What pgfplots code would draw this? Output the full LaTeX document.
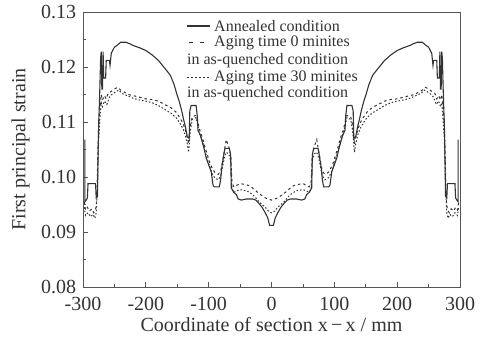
\documentclass[border=0pt]{standalone}
\usepackage{fontspec}
\setmainfont{Liberation Serif}
\usepackage{pgfplots}
\pgfplotsset{compat=1.18}
\definecolor{ink}{HTML}{333333}
\definecolor{frame}{HTML}{555555}
\begin{document}
\fontsize{20}{24}\selectfont
\begin{tikzpicture}
\begin{axis}[
  scale only axis, width=377pt, height=275pt,
  xmin=-300, xmax=300, ymin=0.08, ymax=0.13,
  xtick={-300,-200,...,300}, minor x tick num=1,
  ytick={0.08,0.09,0.10,0.11,0.12,0.13}, minor y tick num=1,
  tick align=inside, xtick pos=bottom, ytick pos=left,
  major tick length=5pt, minor tick length=3pt,
  axis line style={frame, line width=0.8pt},
  tick style={frame, line width=0.7pt},
  /pgf/number format/assume math mode=true,
  yticklabel style={/pgf/number format/fixed, /pgf/number format/fixed zerofill, /pgf/number format/precision=2, text=ink},
  xticklabel style={text=ink, yshift=-3pt},
  scaled y ticks=false,
  xlabel={Coordinate of section x\,\textminus\,x / mm},
  ylabel={First principal strain},
  label style={text=ink},
  xlabel style={yshift=6pt},
  ylabel style={yshift=-2pt},
]
% Annealed condition
\addplot[ink, line width=1.1pt] coordinates {
(-297,0.1068) (-297,0.0955) (-295,0.0958) (-293,0.0962) (-292,0.0988) (-280,0.0988) (-279,0.0962) (-277,0.0965)
(-276,0.1040) (-275,0.1100) (-274,0.1130) (-273,0.1170) (-272,0.1215) (-271,0.1228) (-270,0.1160) (-269,0.1160)
(-268,0.1228) (-267,0.1180) (-264,0.1180) (-263,0.1212) (-258,0.1212) (-257,0.1203) (-255,0.1225) (-250,0.1236)
(-245,0.1240) (-240,0.1245) (-232,0.1245) (-225,0.1242) (-220,0.1239) (-210,0.1235) (-200,0.1230) (-190,0.1222)
(-180,0.1212) (-170,0.1198) (-161,0.1185) (-155,0.1168) (-151,0.1152) (-147,0.1138) (-143,0.1121) (-140,0.1105)
(-137,0.1091) (-134,0.1073) (-131,0.1070) (-130,0.1120) (-128,0.1130) (-120,0.1130) (-118,0.1110) (-117,0.1085)
(-113,0.1075) (-108,0.1055) (-104,0.1035) (-100,0.1022) (-96,0.1010) (-93,0.0985) (-91,0.0982) (-83,0.0982)
(-81,0.0995) (-79,0.1018) (-76,0.1040) (-74,0.1052) (-67,0.1052) (-65,0.1040) (-64,0.0980) (-60,0.0972)
(-56,0.0968) (-53,0.0960) (-48,0.0958) (-40,0.0960) (-30,0.0960) (-25,0.0958) (-20,0.0952) (-15,0.0945)
(-10,0.0935) (-6,0.0926) (-3,0.0912) (0,0.0912)
(3,0.0912) (6,0.0926) (10,0.0935) (15,0.0945) (20,0.0952) (25,0.0958) (30,0.0960) (40,0.0960)
(48,0.0958) (53,0.0960) (56,0.0968) (60,0.0972) (64,0.0980) (65,0.1040) (67,0.1052) (74,0.1052)
(76,0.1040) (79,0.1018) (81,0.0995) (83,0.0982) (91,0.0982) (93,0.0985) (96,0.1010) (100,0.1022)
(104,0.1035) (108,0.1055) (113,0.1075) (117,0.1085) (118,0.1110) (120,0.1130) (128,0.1130) (130,0.1120)
(131,0.1070) (134,0.1073) (137,0.1091) (140,0.1105) (143,0.1121) (147,0.1138) (151,0.1152) (155,0.1168)
(161,0.1185) (170,0.1198) (180,0.1212) (190,0.1222) (200,0.1230) (210,0.1235) (220,0.1239) (225,0.1242)
(232,0.1245) (240,0.1245) (245,0.1240) (250,0.1236) (255,0.1225) (257,0.1203) (258,0.1212) (263,0.1212)
(264,0.1180) (267,0.1180) (268,0.1228) (269,0.1160) (270,0.1160) (271,0.1228) (272,0.1215) (273,0.1170)
(274,0.1130) (275,0.1100) (276,0.1040) (277,0.0965) (279,0.0962) (280,0.0988) (292,0.0988) (293,0.0962)
(295,0.0958) (297,0.0955) (297,0.1068)
};
% Aging time 0 minutes
\addplot[ink, line width=1pt, dash pattern=on 2.5pt off 3pt] coordinates {
(-298,0.0955) (-296,0.0940) (-293,0.0945) (-290,0.0938) (-286,0.0942) (-283,0.0935) (-280,0.0940) (-278,0.0960)
(-277,0.1010) (-276,0.1060) (-275,0.1095) (-273,0.1125) (-271,0.1150) (-269,0.1140) (-266,0.1148) (-263,0.1142)
(-260,0.1152) (-256,0.1155) (-250,0.1160) (-245,0.1163) (-240,0.1158) (-235,0.1155) (-228,0.1150) (-220,0.1148)
(-210,0.1145) (-200,0.1142) (-190,0.1141) (-180,0.1138) (-170,0.1132) (-160,0.1126) (-152,0.1118) (-146,0.1108)
(-141,0.1098) (-137,0.1085) (-134,0.1072) (-132,0.1060) (-129,0.1095) (-126,0.1110) (-120,0.1112) (-117,0.1098)
(-114,0.1085) (-110,0.1072) (-106,0.1055) (-102,0.1040) (-98,0.1025) (-94,0.1015) (-90,0.1008) (-85,0.1005)
(-81,0.1010) (-78,0.1028) (-75,0.1048) (-72,0.1068) (-68,0.1055) (-65,0.1040) (-63,0.0990) (-60,0.0982)
(-55,0.0985) (-50,0.0988) (-45,0.0987) (-40,0.0986) (-35,0.0984) (-30,0.0980) (-25,0.0975) (-20,0.0970)
(-15,0.0966) (-10,0.0962) (-5,0.0960) (0,0.0958)
(5,0.0960) (10,0.0962) (15,0.0966) (20,0.0970) (25,0.0975) (30,0.0980) (35,0.0984) (40,0.0986)
(45,0.0987) (50,0.0988) (55,0.0985) (60,0.0982) (63,0.0990) (65,0.1040) (68,0.1055) (72,0.1068)
(75,0.1048) (78,0.1028) (81,0.1010) (85,0.1005) (90,0.1008) (94,0.1015) (98,0.1025) (102,0.1040)
(106,0.1055) (110,0.1072) (114,0.1085) (117,0.1098) (120,0.1112) (126,0.1110) (129,0.1095) (132,0.1060)
(134,0.1072) (137,0.1085) (141,0.1098) (146,0.1108) (152,0.1118) (160,0.1126) (170,0.1132) (180,0.1138)
(190,0.1141) (200,0.1142) (210,0.1145) (220,0.1148) (228,0.1150) (235,0.1155) (240,0.1158) (245,0.1163)
(250,0.1160) (256,0.1155) (260,0.1152) (263,0.1142) (266,0.1148) (269,0.1140) (271,0.1150) (273,0.1125)
(275,0.1095) (276,0.1060) (277,0.1010) (278,0.0960) (280,0.0940) (283,0.0935) (286,0.0942) (290,0.0938)
(293,0.0945) (296,0.0940) (298,0.0955)
};
% Aging time 30 minutes
\addplot[ink, line width=1pt, dash pattern=on 1.5pt off 2pt] coordinates {
(-298,0.0945) (-296,0.0930) (-292,0.0935) (-288,0.0928) (-284,0.0932) (-281,0.0925) (-279,0.0935) (-277,0.0980)
(-276,0.1030) (-275,0.1070) (-273,0.1105) (-271,0.1135) (-269,0.1128) (-266,0.1138) (-262,0.1132) (-258,0.1145)
(-254,0.1150) (-248,0.1155) (-243,0.1158) (-238,0.1152) (-230,0.1148) (-220,0.1143) (-210,0.1140) (-200,0.1138)
(-190,0.1135) (-180,0.1130) (-170,0.1123) (-160,0.1116) (-152,0.1108) (-146,0.1098) (-141,0.1088) (-137,0.1075)
(-134,0.1060) (-132,0.1045) (-129,0.1085) (-126,0.1105) (-120,0.1108) (-117,0.1092) (-114,0.1078) (-110,0.1065)
(-106,0.1048) (-102,0.1032) (-98,0.1018) (-94,0.1005) (-90,0.0998) (-85,0.0995) (-81,0.1002) (-78,0.1018)
(-75,0.1035) (-72,0.1045) (-68,0.1042) (-65,0.1030) (-63,0.0980) (-60,0.0972) (-55,0.0975) (-50,0.0977)
(-45,0.0976) (-40,0.0975) (-35,0.0972) (-30,0.0968) (-25,0.0962) (-20,0.0955) (-15,0.0950) (-10,0.0945)
(-5,0.0938) (0,0.0935)
(5,0.0938) (10,0.0945) (15,0.0950) (20,0.0955) (25,0.0962) (30,0.0968) (35,0.0972) (40,0.0975)
(45,0.0976) (50,0.0977) (55,0.0975) (60,0.0972) (63,0.0980) (65,0.1030) (68,0.1042) (72,0.1045)
(75,0.1035) (78,0.1018) (81,0.1002) (85,0.0995) (90,0.0998) (94,0.1005) (98,0.1018) (102,0.1032)
(106,0.1048) (110,0.1065) (114,0.1078) (117,0.1092) (120,0.1108) (126,0.1105) (129,0.1085) (132,0.1045)
(134,0.1060) (137,0.1075) (141,0.1088) (146,0.1098) (152,0.1108) (160,0.1116) (170,0.1123) (180,0.1130)
(190,0.1135) (200,0.1138) (210,0.1140) (220,0.1143) (230,0.1148) (238,0.1152) (243,0.1158) (248,0.1155)
(254,0.1150) (258,0.1145) (262,0.1132) (266,0.1138) (269,0.1128) (271,0.1135) (273,0.1105) (275,0.1070)
(276,0.1030) (277,0.0980) (279,0.0935) (281,0.0925) (284,0.0932) (288,0.0928) (292,0.0935) (296,0.0930)
(298,0.0945)
};
\end{axis}
% legend
\begin{scope}[font=\fontsize{16}{19}\selectfont, text=ink]
\draw[ink, line width=1.1pt] (104pt,261pt) -- (127pt,261pt);
\node[anchor=west, inner sep=0pt] at (131pt,261pt) {Annealed condition};
\draw[ink, line width=1pt, dash pattern=on 4pt off 7pt] (106pt,244.3pt) -- (127pt,244.3pt);
\node[anchor=west, inner sep=0pt] at (131pt,244.3pt) {Aging time 0 minites};
\node[anchor=west, inner sep=0pt] at (104pt,226pt) {in as-quenched condition};
\draw[ink, line width=1pt, dash pattern=on 2pt off 2pt] (104pt,209.3pt) -- (127pt,209.3pt);
\node[anchor=west, inner sep=0pt] at (131pt,209.3pt) {Aging time 30 minites};
\node[anchor=west, inner sep=0pt] at (104pt,193.7pt) {in as-quenched condition};
\end{scope}
\pgfresetboundingbox
\path (-83pt,-52pt) rectangle (403pt,287pt);
\end{tikzpicture}
\end{document}
